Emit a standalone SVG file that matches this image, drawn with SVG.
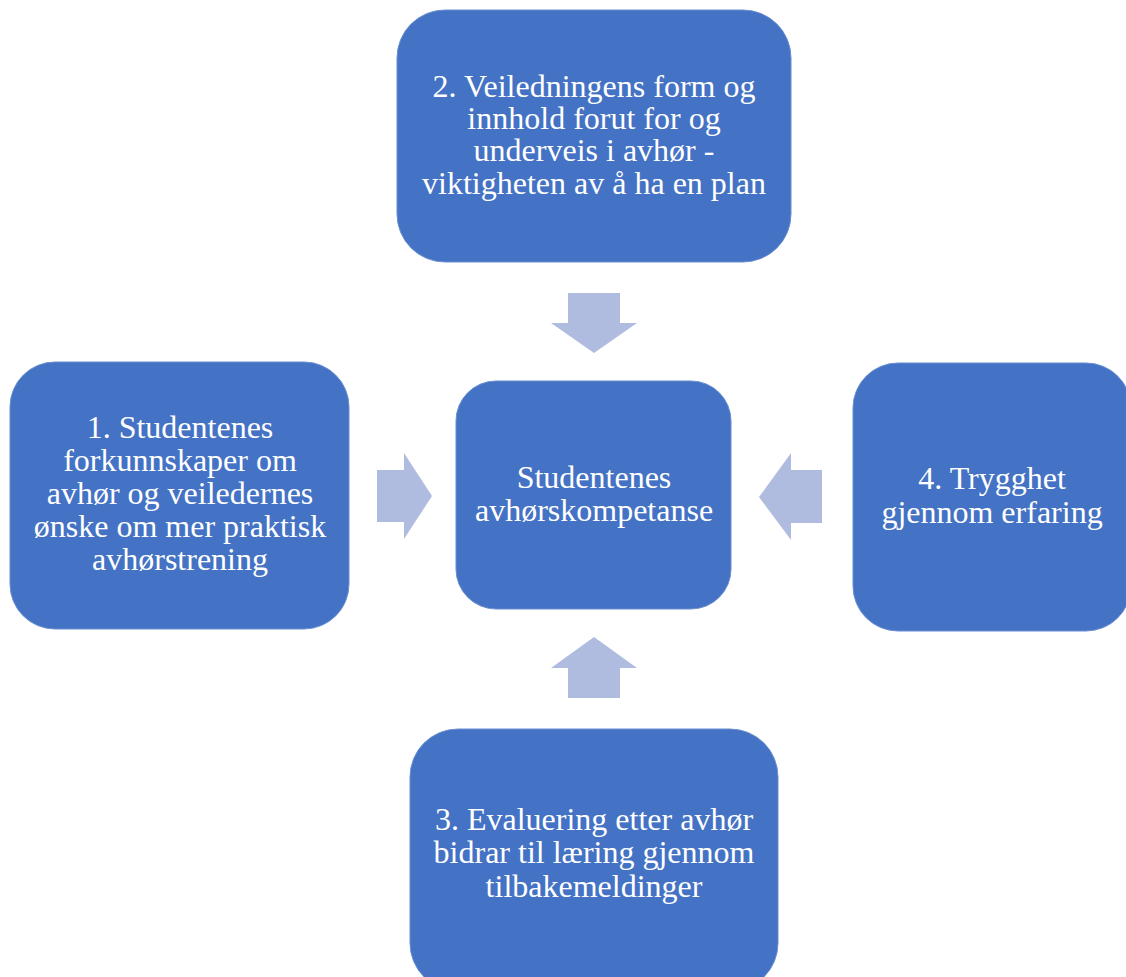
<svg xmlns="http://www.w3.org/2000/svg" width="1126" height="977" viewBox="0 0 1126 977">
<style>
.box{fill:#4472C4;stroke:#6A8ED0;stroke-width:1}
.arr{fill:#AFBCDF}
.t{font-family:"Liberation Serif","Times New Roman",serif;font-size:32px;fill:#FFFFFF;text-anchor:middle}
</style>
<rect width="1126" height="977" fill="#FFFFFF"/>
<g id="connectors">
<polygon class="arr" points="568,293 620,293 620,323 637,323 594,353 551,323 568,323"/>
<polygon class="arr" points="377,470 404,470 404,453 432,496 404,539 404,522 377,522"/>
<polygon class="arr" points="822,470 791,470 791,453 759,497 791,540 791,523 822,523"/>
<polygon class="arr" points="568,698 620,698 620,668 637,668 594,637 551,668 568,668"/>
</g>
<g id="node-top">
<rect class="box" x="397" y="10" width="394" height="252" rx="48"/>
<text class="t" x="594" y="97">2. Veiledningens form og</text>
<text class="t" x="594" y="129">innhold forut for og</text>
<text class="t" x="594" y="161">underveis i avhør -</text>
<text class="t" x="594" y="194">viktigheten av å ha en plan</text>
</g>
<g id="node-left">
<rect class="box" x="10" y="362" width="339" height="267" rx="45"/>
<text class="t" x="180" y="438">1. Studentenes</text>
<text class="t" x="180" y="471">forkunnskaper om</text>
<text class="t" x="180" y="504">avhør og veiledernes</text>
<text class="t" x="180" y="537">ønske om mer praktisk</text>
<text class="t" x="180" y="570">avhørstrening</text>
</g>
<g id="node-center">
<rect class="box" x="456" y="381" width="275" height="228" rx="40"/>
<text class="t" x="594" y="488">Studentenes</text>
<text class="t" x="594" y="521">avhørskompetanse</text>
</g>
<g id="node-right">
<rect class="box" x="853" y="363" width="278" height="268" rx="45"/>
<text class="t" x="992" y="489">4. Trygghet</text>
<text class="t" x="992" y="523">gjennom erfaring</text>
</g>
<g id="node-bottom">
<rect class="box" x="410" y="729" width="368" height="262" rx="48"/>
<text class="t" x="594" y="830">3. Evaluering etter avhør</text>
<text class="t" x="594" y="863">bidrar til læring gjennom</text>
<text class="t" x="594" y="897">tilbakemeldinger</text>
</g>
</svg>
